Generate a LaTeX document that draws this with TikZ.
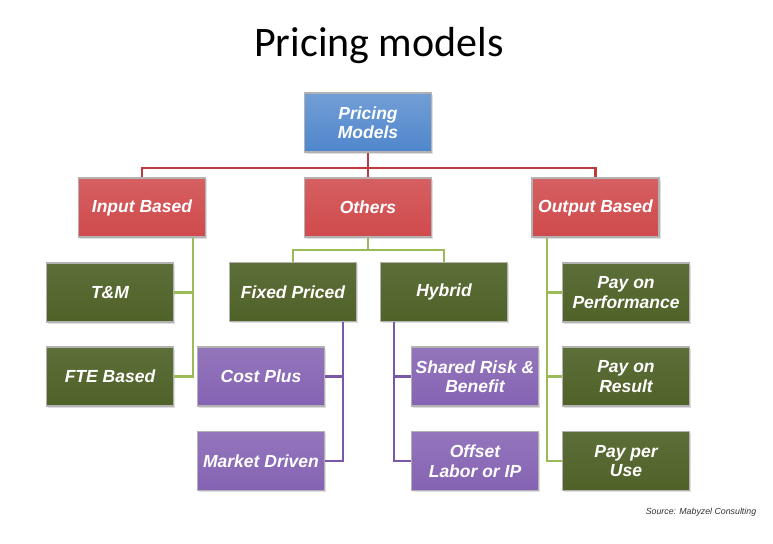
\documentclass[tikz,border=0pt]{standalone}
\usepackage{fontspec}
\setmainfont{Liberation Sans}
\newfontfamily\titlefont{Carlito}
\usetikzlibrary{shadows}
\definecolor{cblue}{HTML}{4F86CC}
\definecolor{cred}{HTML}{D04A4C}
\definecolor{cgreen}{HTML}{4F6228}
\definecolor{cpurple}{HTML}{8563B3}
\definecolor{lred}{HTML}{BE3A3E}
\definecolor{lgreen}{HTML}{9BBB59}
\definecolor{lpurple}{HTML}{7A58A8}
\tikzset{
  box/.style={draw=gray!60, line width=1.4pt, minimum width=127pt, minimum height=59pt,
    inner sep=1pt, align=center, text=white, font=\fontsize{17.5}{19.5}\selectfont\bfseries\itshape,
    drop shadow={opacity=0.25, shadow xshift=1.5pt, shadow yshift=-1.5pt}},
  bluebox/.style={box, top color=cblue!80!white, bottom color=cblue},
  redbox/.style={box, top color=cred!88!white, bottom color=cred},
  greenbox/.style={box, top color=cgreen!92!white, bottom color=cgreen},
  purplebox/.style={box, top color=cpurple!88!white, bottom color=cpurple},
  redline/.style={draw=lred, line width=2.2pt},
  greenline/.style={draw=lgreen, line width=2.2pt},
  purpleline/.style={draw=lpurple, line width=2.2pt},
}
\begin{document}
\begin{tikzpicture}[x=1pt,y=1pt]
\useasboundingbox[fill=white] (0,0) rectangle (773,-543);
\node[font=\titlefont\fontsize{42}{44}\selectfont] (title) at (379,-46) {Pricing models};
\node[font=\fontsize{8.8}{10}\selectfont\itshape, text=black!80] (src) at (701,-512) {Source: Mabyzel Consulting};

\node[bluebox] (pm) at (368,-122.5) {Pricing\\Models};
\node[redbox] (ib) at (142,-207.5) {Input Based};
\node[redbox] (ot) at (368,-207.5) {Others};
\node[redbox] (ob) at (595.5,-207.5) {Output Based};

\node[greenbox] (tm) at (110,-292.5) {T\&M};
\node[greenbox] (fte) at (110,-376.5) {FTE Based};
\node[greenbox] (fp) at (293,-292) {Fixed Priced};
\node[greenbox] (hy) at (444,-292) {Hybrid};
\node[purplebox] (cp) at (261,-376.5) {Cost Plus};
\node[purplebox] (md) at (261,-461) {Market Driven};
\node[purplebox] (sr) at (475,-376.5) {Shared Risk \&\\Benefit};
\node[purplebox] (ol) at (475,-461) {Offset\\Labor or IP};
\node[greenbox] (pp) at (626,-292.5) {Pay on\\Performance};
\node[greenbox] (pr) at (626,-376.5) {Pay on\\Result};
\node[greenbox] (pu) at (626,-461) {Pay per\\Use};

\coordinate (rb) at (0,-168);
\coordinate (gb) at (0,-250);
\coordinate (ix) at (193,0);
\coordinate (px) at (343,0);
\coordinate (hx) at (394,0);
\coordinate (ox) at (547,0);

\draw[redline] (pm.south) -- (ot.north);
\draw[redline] (ib.north) -- (ib.north |- rb) -| (ob.north);

\draw[greenline] (ot.south) -- (ot.south |- gb);
\draw[greenline] (fp.north) -- (fp.north |- gb) -| (hy.north);

\draw[greenline] (ix |- ib.south) -- (ix |- fte.east) -- (fte.east);
\draw[greenline] (tm.east) -- (ix |- tm.east);

\draw[purpleline] (px |- fp.south) -- (px |- md.east) -- (md.east);
\draw[purpleline] (cp.east) -- (px |- cp.east);

\draw[purpleline] (hx |- hy.south) -- (hx |- ol.west) -- (ol.west);
\draw[purpleline] (sr.west) -- (hx |- sr.west);

\draw[greenline] (ox |- ob.south) -- (ox |- pu.west) -- (pu.west);
\draw[greenline] (pp.west) -- (ox |- pp.west);
\draw[greenline] (pr.west) -- (ox |- pr.west);
\end{tikzpicture}
\end{document}
